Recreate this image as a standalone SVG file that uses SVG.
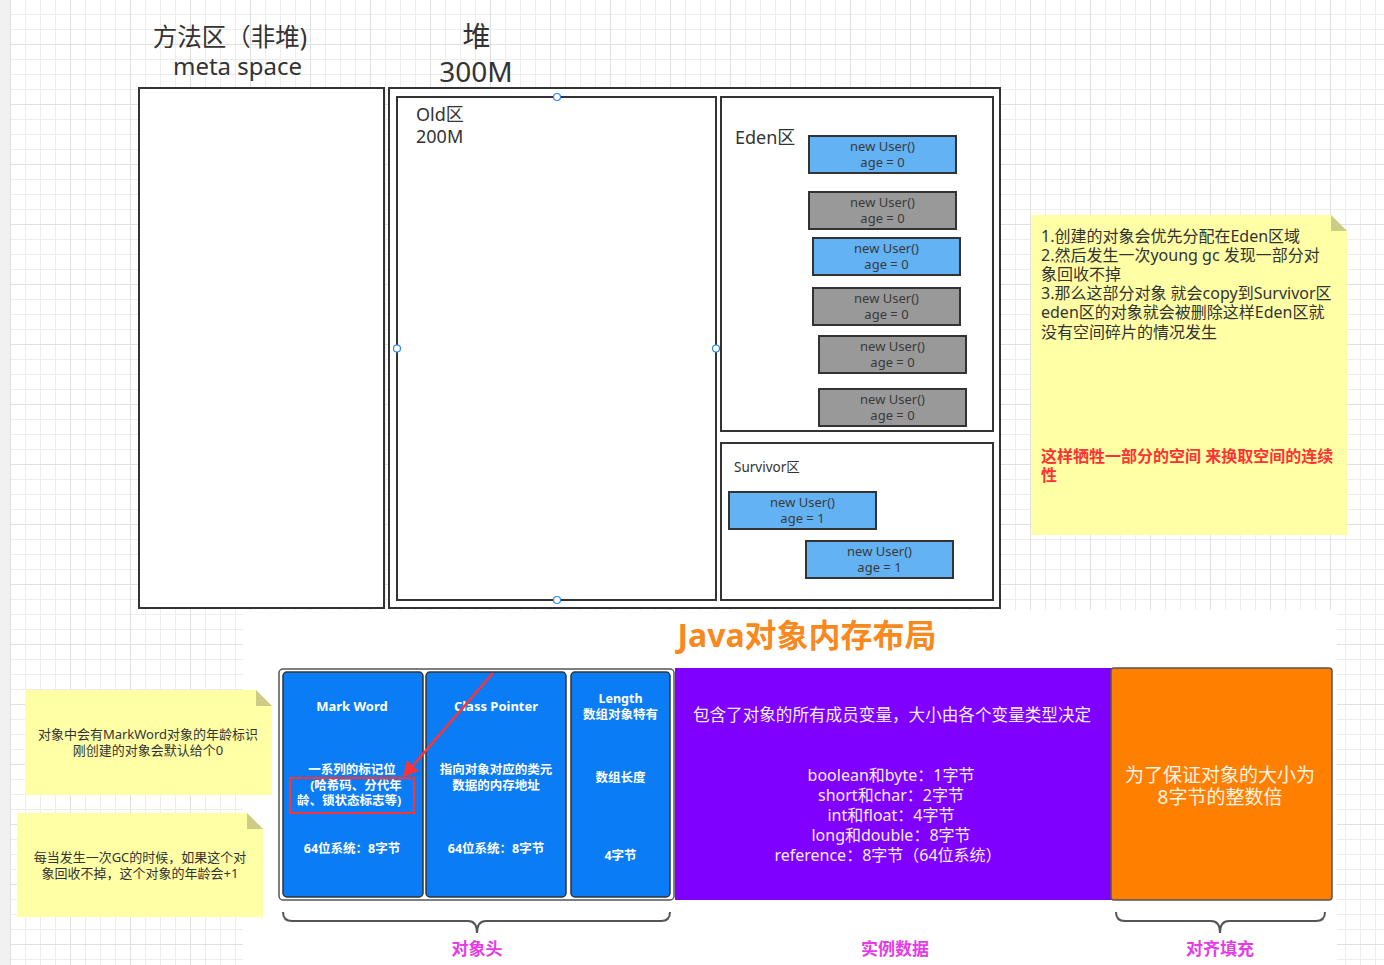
<svg xmlns="http://www.w3.org/2000/svg" width="1384" height="965" viewBox="0 0 1384 965">
<defs>
<pattern id="gmin" patternUnits="userSpaceOnUse" x="10" y="-1" width="15" height="15">
<path d="M0 0.5 H15 M0.5 0 V15" stroke="#ededed" stroke-width="1" fill="none"/>
</pattern>
<pattern id="gmaj" patternUnits="userSpaceOnUse" x="10" y="-16" width="60" height="60">
<path d="M0 0.5 H60 M0.5 0 V60" stroke="#e0e0e0" stroke-width="1" fill="none"/>
</pattern>
</defs>
<style>
text{font-family:"Noto Sans","Noto Sans CJK SC",sans-serif;}
.box{fill:#fff;stroke:#333;stroke-width:2;}
.ub{fill:#63b2f4;stroke:#333;stroke-width:2;}
.ug{fill:#999999;stroke:#333;stroke-width:2;}
.ut{font-size:13px;fill:#3a3a3a;text-anchor:middle;}
.hd{fill:#333;text-anchor:middle;}
.note{fill:#ffffa6;}
.fold{fill:#cccc84;}
.nt{font-size:16px;fill:#333;}
.nr{font-size:16px;fill:#ff3333;font-weight:bold;}
.st{font-size:13px;fill:#333;text-anchor:middle;}
.bb{fill:#0a7cf6;stroke:#333;stroke-width:1.5;}
.wt{font-size:12.5px;font-weight:bold;fill:#fff;text-anchor:middle;}
.wh{font-size:13px;font-weight:bold;fill:#fff;text-anchor:middle;}
.pt{font-size:16px;fill:#f3ecff;text-anchor:middle;}
.ph{font-size:16.6px;fill:#f3ecff;text-anchor:middle;}
.ot{font-size:19px;fill:#fff3e4;text-anchor:middle;}
.lab{font-size:17px;font-weight:bold;fill:#e63ce6;text-anchor:middle;}
.brace{fill:none;stroke:#555;stroke-width:2;}
.h{fill:#fff;stroke:#2b8af2;stroke-width:1.2;}
</style>
<rect x="0" y="0" width="1384" height="965" fill="#fff"/>
<rect x="0" y="0" width="10" height="965" fill="#f1f1f1"/>
<rect x="10" y="0" width="1374" height="965" fill="url(#gmin)"/>
<rect x="10" y="0" width="1374" height="965" fill="url(#gmaj)"/>

<rect x="243" y="610" width="1094" height="355" fill="#fff"/>

<g id="title-meta">
<text class="hd" x="230" y="46" font-size="24.5">方法区（非堆)</text>
<text class="hd" x="237.5" y="75" font-size="24">meta space</text>
</g>
<g id="title-heap">
<text class="hd" x="476.5" y="47" font-size="28">堆</text>
<text class="hd" x="476" y="82" font-size="28">300M</text>
</g>

<g id="meta-space"><rect class="box" x="139" y="88" width="245" height="520"/></g>
<g id="heap"><rect class="box" x="389" y="88" width="611" height="520"/></g>
<g id="old">
<rect class="box" x="397" y="97" width="319" height="503"/>
<text x="416" y="121" font-size="18" fill="#333">Old区</text>
<text x="416" y="143" font-size="18" fill="#333">200M</text>
<circle class="h" cx="557" cy="97" r="3.5"/>
<circle class="h" cx="397" cy="348.5" r="3.5"/>
<circle class="h" cx="716" cy="348.5" r="3.5"/>
<circle class="h" cx="557" cy="600" r="3.5"/>
</g>
<g id="eden">
<rect class="box" x="721" y="97" width="272" height="334"/>
<text x="735" y="144" font-size="18" fill="#333">Eden区</text>
</g>
<g id="eden-u1"><rect class="ub" x="809" y="136" width="147" height="37"/><text class="ut" x="882.5" y="151">new User()</text><text class="ut" x="882.5" y="167">age = 0</text></g>
<g id="eden-u2"><rect class="ug" x="809" y="192" width="147" height="37"/><text class="ut" x="882.5" y="207">new User()</text><text class="ut" x="882.5" y="223">age = 0</text></g>
<g id="eden-u3"><rect class="ub" x="813" y="238" width="147" height="37"/><text class="ut" x="886.5" y="253">new User()</text><text class="ut" x="886.5" y="269">age = 0</text></g>
<g id="eden-u4"><rect class="ug" x="813" y="288" width="147" height="37"/><text class="ut" x="886.5" y="303">new User()</text><text class="ut" x="886.5" y="319">age = 0</text></g>
<g id="eden-u5"><rect class="ug" x="819" y="336" width="147" height="37"/><text class="ut" x="892.5" y="351">new User()</text><text class="ut" x="892.5" y="367">age = 0</text></g>
<g id="eden-u6"><rect class="ug" x="819" y="389" width="147" height="37"/><text class="ut" x="892.5" y="404">new User()</text><text class="ut" x="892.5" y="420">age = 0</text></g>

<g id="survivor">
<rect class="box" x="721" y="443" width="272" height="157"/>
<text x="734" y="472" font-size="13.5" fill="#333">Survivor区</text>
</g>
<g id="surv-u1"><rect class="ub" x="729" y="492" width="147" height="37"/><text class="ut" x="802.5" y="507">new User()</text><text class="ut" x="802.5" y="523">age = 1</text></g>
<g id="surv-u2"><rect class="ub" x="806" y="541" width="147" height="37"/><text class="ut" x="879.5" y="556">new User()</text><text class="ut" x="879.5" y="572">age = 1</text></g>

<g id="note-eden">
<path class="note" d="M1031 215 H1331 L1347 231 V535 H1031 Z"/>
<path class="fold" d="M1331 215 V231 H1347 Z"/>
<text class="nt" x="1041" y="241.5">1.创建的对象会优先分配在Eden区域</text>
<text class="nt" x="1041" y="260.7">2.然后发生一次young gc 发现一部分对</text>
<text class="nt" x="1041" y="280">象回收不掉</text>
<text class="nt" x="1041" y="299.2">3.那么这部分对象 就会copy到Survivor区</text>
<text class="nt" x="1041" y="318.4">eden区的对象就会被删除这样Eden区就</text>
<text class="nt" x="1041" y="337.6">没有空间碎片的情况发生</text>
<text class="nr" x="1041" y="461.5">这样牺牲一部分的空间 来换取空间的连续</text>
<text class="nr" x="1041" y="480.7">性</text>
</g>

<g id="java-title"><text x="807" y="647" font-size="32" font-weight="bold" fill="#f8891e" text-anchor="middle">Java对象内存布局</text></g>

<g id="object-header">
<rect x="279" y="669" width="395" height="231" rx="4" fill="#fff" stroke="#555" stroke-width="1.5"/>
</g>
<g id="mark-word">
<rect class="bb" x="283" y="672" width="140" height="225" rx="4"/>
<text class="wh" x="352" y="711">Mark Word</text>
<text class="wt" x="352" y="774">一系列的标记位</text>
<text class="wt" x="356" y="790">(哈希码、分代年</text>
<text class="wt" x="349" y="805">龄、锁状态标志等)</text>
<text class="wt" x="352" y="853">64位系统：8字节</text>
<rect x="290" y="778" width="124" height="35" fill="none" stroke="#ff3333" stroke-width="2"/>
</g>
<g id="class-pointer">
<rect class="bb" x="426" y="672" width="140" height="225" rx="4"/>
<text class="wh" x="496" y="711">Class Pointer</text>
<text class="wt" x="496" y="774">指向对象对应的类元</text>
<text class="wt" x="496" y="790">数据的内存地址</text>
<text class="wt" x="496" y="853">64位系统：8字节</text>
</g>
<g id="length">
<rect class="bb" x="571" y="672" width="99" height="225" rx="4"/>
<text class="wt" x="620.5" y="702.5">Length</text>
<text class="wt" x="620.5" y="718.5">数组对象特有</text>
<text class="wt" x="620.5" y="782">数组长度</text>
<text class="wt" x="620.5" y="860">4字节</text>
</g>
<g id="instance-data">
<rect x="675" y="668" width="436" height="232" fill="#8000ff"/>
<text class="ph" x="892" y="721">包含了对象的所有成员变量，大小由各个变量类型决定</text>
<text class="pt" x="891" y="781">boolean和byte：1字节</text>
<text class="pt" x="891" y="801">short和char：2字节</text>
<text class="pt" x="891" y="821">int和float：4字节</text>
<text class="pt" x="891" y="841">long和double：8字节</text>
<text class="pt" x="888" y="861">reference：8字节（64位系统）</text>
</g>
<g id="padding">
<rect x="1111" y="668" width="221" height="232" rx="3" fill="#ff8000" stroke="#555" stroke-width="1.5"/>
<text class="ot" x="1220" y="782">为了保证对象的大小为</text>
<text class="ot" x="1220" y="804">8字节的整数倍</text>
</g>
<g id="braces">
<path class="brace" d="M283 912 Q283 921 292 921 H468 Q477 921 477 933 Q477 921 486 921 H661 Q670 921 670 912"/>
<path class="brace" d="M1116 912 Q1116 921 1125 921 H1211 Q1220 921 1220 933 Q1220 921 1229 921 H1316 Q1325 921 1325 912"/>
<text class="lab" x="477" y="955">对象头</text>
<text class="lab" x="895" y="955">实例数据</text>
<text class="lab" x="1220" y="955">对齐填充</text>
</g>

<g id="note-markword">
<path class="note" d="M25 690 H256 L272 706 V795 H25 Z"/>
<path class="fold" d="M256 690 V706 H272 Z"/>
<text class="st" x="148" y="739">对象中会有MarkWord对象的年龄标识</text>
<text class="st" x="148" y="755">刚创建的对象会默认给个0</text>
</g>
<g id="note-gc">
<path class="note" d="M17 813 H247 L263 829 V917 H17 Z"/>
<path class="fold" d="M247 813 V829 H263 Z"/>
<text class="st" x="140" y="862">每当发生一次GC的时候，如果这个对</text>
<text class="st" x="140" y="878">象回收不掉，这个对象的年龄会+1</text>
</g>

<g id="connectors">
<line x1="493" y1="673" x2="413" y2="765.5" stroke="#ff3333" stroke-width="2.5"/>
<polygon points="403,777 406.8,760.5 418.8,770.9" fill="#ff3333"/>
</g>
</svg>
